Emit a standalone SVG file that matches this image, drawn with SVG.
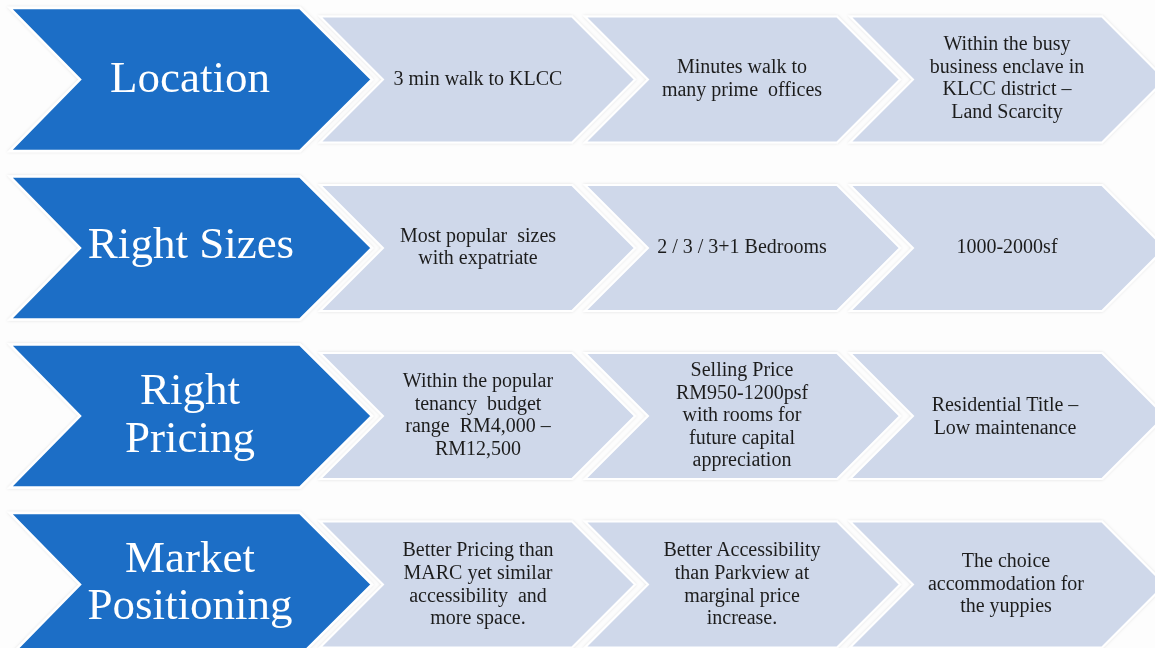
<svg xmlns="http://www.w3.org/2000/svg" xmlns:xlink="http://www.w3.org/1999/xlink" width="1155" height="648" viewBox="0 0 1155 648">
<defs>
<style>
.bg{fill:#fdfdfd}
.blue{fill:#1a6ec6;stroke:#ffffff;stroke-width:2.5}
.light{fill:#cfd8ea;stroke:#ffffff;stroke-width:2}
.title{font-family:"Liberation Serif","Times New Roman",serif;font-size:45px;fill:#ffffff;text-anchor:middle}
.txt{font-family:"Liberation Serif","Times New Roman",serif;font-size:20px;fill:#1e1e1e;text-anchor:middle;white-space:pre}
</style>
<filter id="sh" x="-5%" y="-10%" width="110%" height="120%">
<feDropShadow dx="0" dy="0" stdDeviation="1.5" flood-color="#000000" flood-opacity="0.12"/>
</filter>
<polygon id="blueChev" points="10,-71.5 300,-71.5 372,0 300,71.5 10,71.5 80,0"/>
<polygon id="lightChev" points="0,-63 252,-63 315,0 252,63 0,63 63,0"/>
</defs>
<rect class="bg" x="0" y="0" width="1155" height="648"/>

<g id="row1">
<g id="location" filter="url(#sh)"><use xlink:href="#blueChev" class="blue" x="0" y="79.5"/><text class="title" x="190" y="92">Location</text></g>
<g id="loc1" filter="url(#sh)"><use xlink:href="#lightChev" class="light" x="320" y="79.5"/><text class="txt" x="478" y="85">3 min walk to KLCC</text></g>
<g id="loc2" filter="url(#sh)"><use xlink:href="#lightChev" class="light" x="585" y="79.5"/><text class="txt" x="742"><tspan x="742" y="73">Minutes walk to</tspan><tspan x="742" y="96">many prime  offices</tspan></text></g>
<g id="loc3" filter="url(#sh)"><use xlink:href="#lightChev" class="light" x="850" y="79.5"/><text class="txt" x="1007"><tspan x="1007" y="50">Within the busy</tspan><tspan x="1007" y="72.5">business enclave in</tspan><tspan x="1007" y="95">KLCC district –</tspan><tspan x="1007" y="117.5">Land Scarcity</tspan></text></g>
</g>

<g id="row2">
<g id="rightsizes" filter="url(#sh)"><use xlink:href="#blueChev" class="blue" x="0" y="248"/><text class="title" x="191" y="258">Right Sizes</text></g>
<g id="size1" filter="url(#sh)"><use xlink:href="#lightChev" class="light" x="320" y="248"/><text class="txt" x="478"><tspan x="478" y="242">Most popular  sizes</tspan><tspan x="478" y="264">with expatriate</tspan></text></g>
<g id="size2" filter="url(#sh)"><use xlink:href="#lightChev" class="light" x="585" y="248"/><text class="txt" x="742" y="253">2 / 3 / 3+1 Bedrooms</text></g>
<g id="size3" filter="url(#sh)"><use xlink:href="#lightChev" class="light" x="850" y="248"/><text class="txt" x="1007" y="253">1000-2000sf</text></g>
</g>

<g id="row3">
<g id="rightpricing" filter="url(#sh)"><use xlink:href="#blueChev" class="blue" x="0" y="416"/><text class="title" x="190"><tspan x="190" y="404">Right</tspan><tspan x="190" y="452">Pricing</tspan></text></g>
<g id="price1" filter="url(#sh)"><use xlink:href="#lightChev" class="light" x="320" y="416"/><text class="txt" x="478"><tspan x="478" y="387">Within the popular</tspan><tspan x="478" y="409.5">tenancy  budget</tspan><tspan x="478" y="432">range  RM4,000 –</tspan><tspan x="478" y="454.5">RM12,500</tspan></text></g>
<g id="price2" filter="url(#sh)"><use xlink:href="#lightChev" class="light" x="585" y="416"/><text class="txt" x="742"><tspan x="742" y="376">Selling Price</tspan><tspan x="742" y="398.5">RM950-1200psf</tspan><tspan x="742" y="421">with rooms for</tspan><tspan x="742" y="443.5">future capital</tspan><tspan x="742" y="466">appreciation</tspan></text></g>
<g id="price3" filter="url(#sh)"><use xlink:href="#lightChev" class="light" x="850" y="416"/><text class="txt" x="1005"><tspan x="1005" y="411">Residential Title –</tspan><tspan x="1005" y="433.5">Low maintenance</tspan></text></g>
</g>

<g id="row4">
<g id="marketpositioning" filter="url(#sh)"><use xlink:href="#blueChev" class="blue" x="0" y="584.5"/><text class="title" x="190"><tspan x="190" y="572">Market</tspan><tspan x="190" y="619">Positioning</tspan></text></g>
<g id="market1" filter="url(#sh)"><use xlink:href="#lightChev" class="light" x="320" y="584.5"/><text class="txt" x="478"><tspan x="478" y="556">Better Pricing than</tspan><tspan x="478" y="579">MARC yet similar</tspan><tspan x="478" y="602">accessibility  and</tspan><tspan x="478" y="624">more space.</tspan></text></g>
<g id="market2" filter="url(#sh)"><use xlink:href="#lightChev" class="light" x="585" y="584.5"/><text class="txt" x="742"><tspan x="742" y="556">Better Accessibility</tspan><tspan x="742" y="579">than Parkview at</tspan><tspan x="742" y="602">marginal price</tspan><tspan x="742" y="624">increase.</tspan></text></g>
<g id="market3" filter="url(#sh)"><use xlink:href="#lightChev" class="light" x="850" y="584.5"/><text class="txt" x="1006"><tspan x="1006" y="567">The choice</tspan><tspan x="1006" y="589.5">accommodation for</tspan><tspan x="1006" y="612">the yuppies</tspan></text></g>
</g>

<g id="connectors"/>
</svg>
